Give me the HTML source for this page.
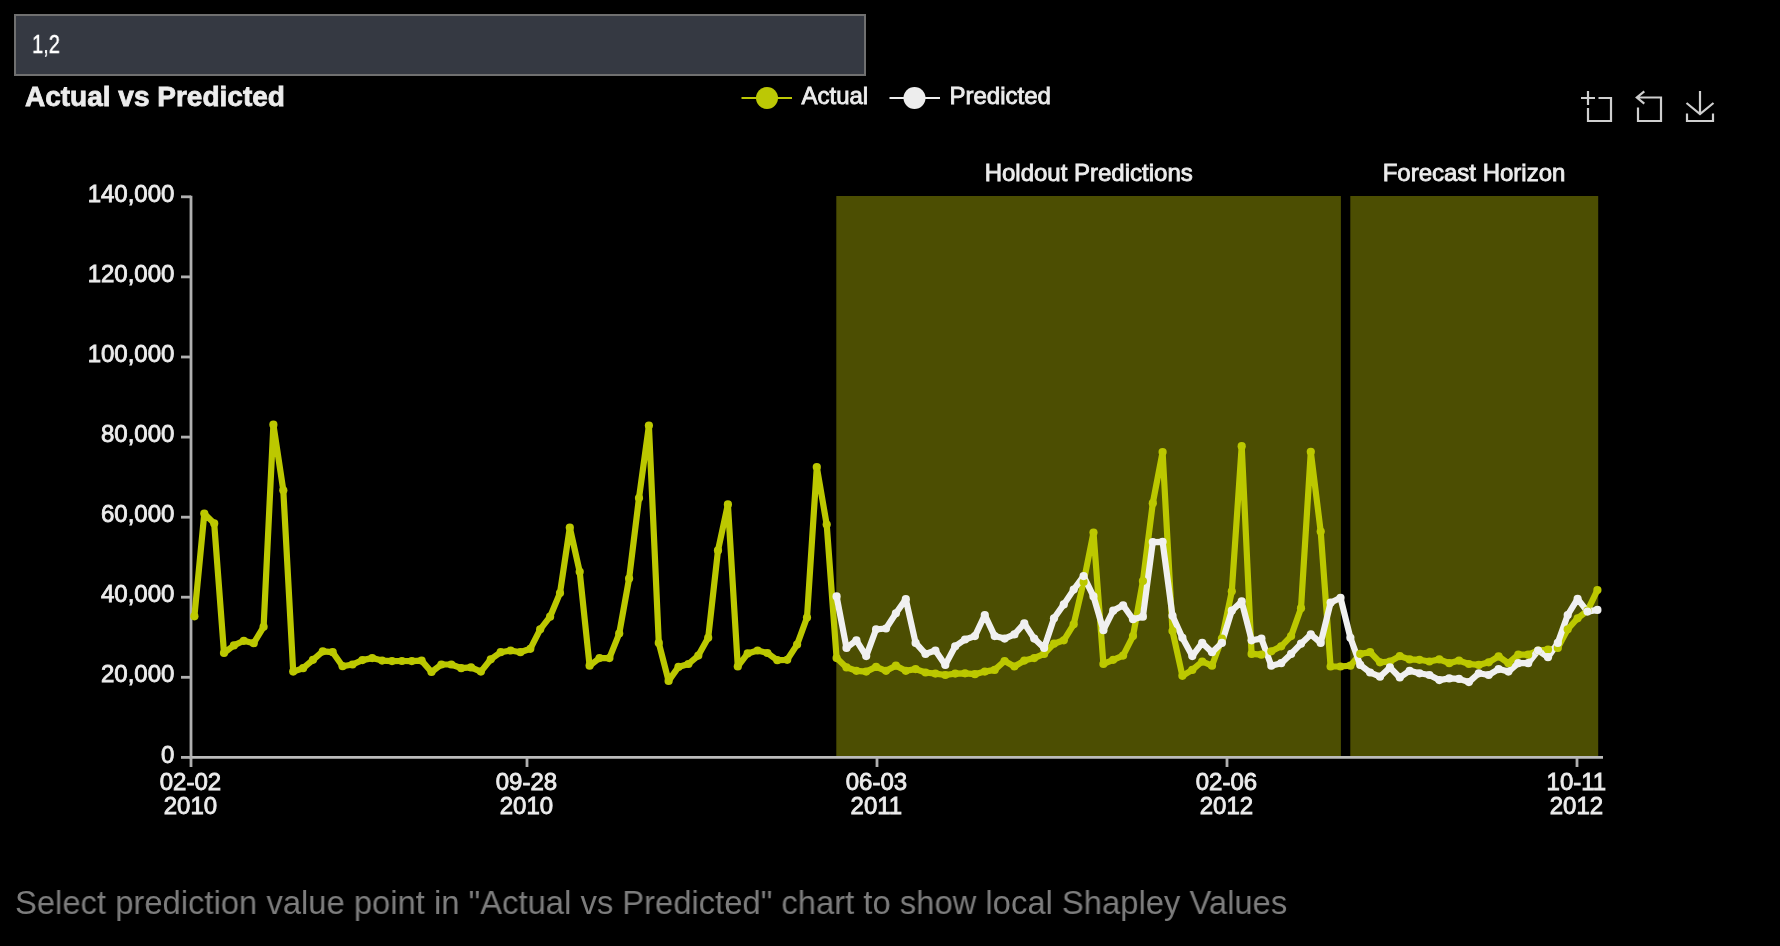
<!DOCTYPE html>
<html><head><meta charset="utf-8"><title>Actual vs Predicted</title>
<style>
html,body{margin:0;padding:0;background:#000;}
body{width:1780px;height:946px;position:relative;overflow:hidden;font-family:"Liberation Sans",sans-serif;}
#inp{position:absolute;left:14px;top:14px;width:848px;height:58px;border:2px solid #707070;background:#353942;}
#inp span{position:absolute;left:16px;top:13px;font-size:26.5px;line-height:30px;color:#fff;-webkit-text-stroke:0.4px #fff;transform-origin:0 50%;transform:scaleX(0.76);letter-spacing:0px;white-space:nowrap;}
#msg,#inp span{will-change:transform;}
#msg{position:absolute;left:15px;top:883px;font-size:33px;line-height:40px;color:#7d7d7d;white-space:nowrap;transform-origin:0 50%;transform:scaleX(0.993);}
svg{position:absolute;left:0;top:0;will-change:transform;}
svg text{font-family:"Liberation Sans",sans-serif;font-size:24px;fill:#ececec;stroke:#ececec;stroke-width:0.85px;}
</style></head><body>
<div id="inp"><span>1,2</span></div>
<svg width="1780" height="946" viewBox="0 0 1780 946">
<rect x="836.3" y="196" width="504.6" height="561" fill="#4c4e02"/>
<rect x="1350.3" y="196" width="247.9" height="561" fill="#4c4e02"/>
<g stroke="#b0b0b0" stroke-width="2.8" fill="none">
<line x1="191" y1="195.7" x2="191" y2="758.5"/>
<line x1="189.6" y1="757.4" x2="1603" y2="757.4" stroke="#bcbcbc" stroke-width="2.6"/>
<line x1="181" y1="757.4" x2="191" y2="757.4"/><line x1="181" y1="677.3" x2="191" y2="677.3"/><line x1="181" y1="597.2" x2="191" y2="597.2"/><line x1="181" y1="517.2" x2="191" y2="517.2"/><line x1="181" y1="437.1" x2="191" y2="437.1"/><line x1="181" y1="357.0" x2="191" y2="357.0"/><line x1="181" y1="276.9" x2="191" y2="276.9"/><line x1="181" y1="196.8" x2="191" y2="196.8"/><line x1="191" y1="757.4" x2="191" y2="767"/><line x1="527" y1="757.4" x2="527" y2="767"/><line x1="877" y1="757.4" x2="877" y2="767"/><line x1="1227" y1="757.4" x2="1227" y2="767"/><line x1="1577" y1="757.4" x2="1577" y2="767"/>
</g>
<g><text x="174.4" y="762.5" text-anchor="end">0</text><text x="174.4" y="682.4" text-anchor="end">20,000</text><text x="174.4" y="602.3" text-anchor="end">40,000</text><text x="174.4" y="522.3" text-anchor="end">60,000</text><text x="174.4" y="442.2" text-anchor="end">80,000</text><text x="174.4" y="362.1" text-anchor="end">100,000</text><text x="174.4" y="282.0" text-anchor="end">120,000</text><text x="174.4" y="201.9" text-anchor="end">140,000</text><text x="190.4" y="790.1" text-anchor="middle">02-02</text><text x="190.4" y="814.1" text-anchor="middle">2010</text><text x="526.4" y="790.1" text-anchor="middle">09-28</text><text x="526.4" y="814.1" text-anchor="middle">2010</text><text x="876.4" y="790.1" text-anchor="middle">06-03</text><text x="876.4" y="814.1" text-anchor="middle">2011</text><text x="1226.4" y="790.1" text-anchor="middle">02-06</text><text x="1226.4" y="814.1" text-anchor="middle">2012</text><text x="1576.4" y="790.1" text-anchor="middle">10-11</text><text x="1576.4" y="814.1" text-anchor="middle">2012</text></g>
<text x="1088.7" y="181" text-anchor="middle">Holdout Predictions</text>
<text x="1474" y="181" text-anchor="middle">Forecast Horizon</text>
<text x="25" y="105.5" style="font-weight:bold;font-size:28px;stroke-width:0.8px">Actual vs Predicted</text>
<g>
<line x1="741.5" y1="98" x2="792" y2="98" stroke="#bcc805" stroke-width="2.1"/>
<circle cx="767" cy="98" r="11" fill="#bcc805"/>
<text x="801.5" y="104">Actual</text>
<line x1="889.5" y1="98" x2="940" y2="98" stroke="#ededed" stroke-width="2.1"/>
<circle cx="914.5" cy="98" r="11" fill="#ededed"/>
<text x="949.5" y="104">Predicted</text>
</g>
<g fill="none" stroke="#cfcfcf" stroke-width="2.2" stroke-linecap="butt" stroke-linejoin="miter">
<path d="M1581 98H1595M1588 91V105M1598.5 98H1611V121H1588V108"/>
<path d="M1637 97.5H1661V121H1638V107.5M1644.3 91.3L1636.8 97.5L1644.3 103.7"/>
<path d="M1700 91V114M1686.5 103L1700 114L1713.5 103M1687 113.5V121H1713V113.5"/>
</g>
<polyline points="194.4,616.3 204.3,513.6 214.2,523.4 224.0,653.0 233.9,645.4 243.8,640.8 253.7,643.2 263.6,626.8 273.4,424.7 283.3,490.3 293.2,671.6 303.1,668.2 313.0,659.8 322.8,651.3 332.7,652.2 342.6,666.2 352.5,664.5 362.4,660.1 372.2,658.1 382.1,660.6 392.0,661.1 401.9,661.0 411.8,661.1 421.6,660.6 431.5,672.0 441.4,664.5 451.3,664.5 461.2,668.2 471.0,667.4 480.9,671.6 490.8,659.3 500.7,652.2 510.6,650.5 520.4,652.2 530.3,648.8 540.2,629.3 550.1,616.7 560.0,593.0 569.8,527.5 579.7,571.8 589.6,665.7 599.5,658.1 609.4,658.1 619.2,633.6 629.1,578.6 639.0,498.0 648.9,425.6 658.8,642.9 668.6,680.9 678.5,666.9 688.4,664.0 698.3,655.6 708.2,637.8 718.0,550.4 727.9,504.4 737.8,666.5 747.7,653.4 757.6,650.5 767.4,653.0 777.3,660.2 787.2,659.8 797.1,644.6 807.0,617.5 816.8,467.1 826.7,524.6 836.6,658.1 846.5,667.4 856.4,670.8 866.2,671.6 876.1,666.9 886.0,670.8 895.9,665.7 905.8,670.8 915.6,669.1 925.5,672.5 935.4,673.6 945.3,675.0 955.2,673.6 965.0,673.3 974.9,674.2 984.8,671.6 994.7,669.9 1004.6,661.0 1014.4,666.5 1024.3,660.6 1034.2,658.1 1044.1,653.9 1054.0,643.7 1063.8,640.3 1073.7,624.3 1083.6,582.0 1093.5,532.5 1103.4,664.0 1113.2,659.8 1123.1,655.6 1133.0,636.1 1142.9,581.1 1152.8,503.2 1162.6,452.1 1172.5,631.0 1182.4,675.8 1192.3,669.9 1202.2,661.5 1212.0,665.7 1221.9,638.6 1231.8,591.3 1241.7,446.2 1251.6,653.9 1261.4,654.7 1271.3,651.3 1281.2,646.3 1291.1,636.1 1301.0,608.2 1310.8,451.8 1320.7,531.6 1330.6,666.5 1340.5,666.5 1350.4,665.7 1360.2,653.9 1370.1,652.2 1380.0,662.3 1389.9,661.5 1399.8,656.1 1409.6,659.4 1419.5,659.8 1429.4,661.5 1439.3,659.4 1449.2,663.2 1459.0,660.6 1468.9,664.0 1478.8,664.9 1488.7,662.3 1498.6,656.4 1508.4,663.2 1518.3,654.7 1528.2,654.7 1538.1,650.5 1548.0,649.6 1557.8,647.9 1567.7,629.3 1577.6,618.3 1587.5,610.7 1597.4,590.1" fill="none" stroke="#bcc800" stroke-width="6.2" stroke-linejoin="round" stroke-linecap="round"/>
<polyline points="836.6,596.4 846.5,647.9 856.4,640.3 866.2,656.1 876.1,629.3 886.0,628.5 895.9,613.3 905.8,599.2 915.6,642.9 925.5,653.9 935.4,650.5 945.3,664.9 955.2,646.3 965.0,639.5 974.9,636.1 984.8,615.0 994.7,636.1 1004.6,638.6 1014.4,634.4 1024.3,623.4 1034.2,638.6 1044.1,647.9 1054.0,618.3 1063.8,604.4 1073.7,589.6 1083.6,576.1 1093.5,596.4 1103.4,630.2 1113.2,610.7 1123.1,605.3 1133.0,619.2 1142.9,616.7 1152.8,542.1 1162.6,541.8 1172.5,615.8 1182.4,637.8 1192.3,656.1 1202.2,642.9 1212.0,652.2 1221.9,642.9 1231.8,610.7 1241.7,601.4 1251.6,640.3 1261.4,638.6 1271.3,665.7 1281.2,663.2 1291.1,653.9 1301.0,643.7 1310.8,634.4 1320.7,642.9 1330.6,602.7 1340.5,597.8 1350.4,637.8 1360.2,664.9 1370.1,672.5 1380.0,676.7 1389.9,667.4 1399.8,677.5 1409.6,670.8 1419.5,673.3 1429.4,675.0 1439.3,680.1 1449.2,678.4 1459.0,678.9 1468.9,682.1 1478.8,673.3 1488.7,675.0 1498.6,669.1 1508.4,671.6 1518.3,663.2 1528.2,663.2 1538.1,650.5 1548.0,657.2 1557.8,642.9 1567.7,615.0 1577.6,598.9 1587.5,611.6 1597.4,609.9" fill="none" stroke="#f0f0f0" stroke-width="6.2" stroke-linejoin="round" stroke-linecap="round"/>
<g fill="#bcc800"><circle cx="194.4" cy="616.3" r="4.1"/><circle cx="204.3" cy="513.6" r="4.1"/><circle cx="214.2" cy="523.4" r="4.1"/><circle cx="224.0" cy="653.0" r="4.1"/><circle cx="233.9" cy="645.4" r="4.1"/><circle cx="243.8" cy="640.8" r="4.1"/><circle cx="253.7" cy="643.2" r="4.1"/><circle cx="263.6" cy="626.8" r="4.1"/><circle cx="273.4" cy="424.7" r="4.1"/><circle cx="283.3" cy="490.3" r="4.1"/><circle cx="293.2" cy="671.6" r="4.1"/><circle cx="303.1" cy="668.2" r="4.1"/><circle cx="313.0" cy="659.8" r="4.1"/><circle cx="322.8" cy="651.3" r="4.1"/><circle cx="332.7" cy="652.2" r="4.1"/><circle cx="342.6" cy="666.2" r="4.1"/><circle cx="352.5" cy="664.5" r="4.1"/><circle cx="362.4" cy="660.1" r="4.1"/><circle cx="372.2" cy="658.1" r="4.1"/><circle cx="382.1" cy="660.6" r="4.1"/><circle cx="392.0" cy="661.1" r="4.1"/><circle cx="401.9" cy="661.0" r="4.1"/><circle cx="411.8" cy="661.1" r="4.1"/><circle cx="421.6" cy="660.6" r="4.1"/><circle cx="431.5" cy="672.0" r="4.1"/><circle cx="441.4" cy="664.5" r="4.1"/><circle cx="451.3" cy="664.5" r="4.1"/><circle cx="461.2" cy="668.2" r="4.1"/><circle cx="471.0" cy="667.4" r="4.1"/><circle cx="480.9" cy="671.6" r="4.1"/><circle cx="490.8" cy="659.3" r="4.1"/><circle cx="500.7" cy="652.2" r="4.1"/><circle cx="510.6" cy="650.5" r="4.1"/><circle cx="520.4" cy="652.2" r="4.1"/><circle cx="530.3" cy="648.8" r="4.1"/><circle cx="540.2" cy="629.3" r="4.1"/><circle cx="550.1" cy="616.7" r="4.1"/><circle cx="560.0" cy="593.0" r="4.1"/><circle cx="569.8" cy="527.5" r="4.1"/><circle cx="579.7" cy="571.8" r="4.1"/><circle cx="589.6" cy="665.7" r="4.1"/><circle cx="599.5" cy="658.1" r="4.1"/><circle cx="609.4" cy="658.1" r="4.1"/><circle cx="619.2" cy="633.6" r="4.1"/><circle cx="629.1" cy="578.6" r="4.1"/><circle cx="639.0" cy="498.0" r="4.1"/><circle cx="648.9" cy="425.6" r="4.1"/><circle cx="658.8" cy="642.9" r="4.1"/><circle cx="668.6" cy="680.9" r="4.1"/><circle cx="678.5" cy="666.9" r="4.1"/><circle cx="688.4" cy="664.0" r="4.1"/><circle cx="698.3" cy="655.6" r="4.1"/><circle cx="708.2" cy="637.8" r="4.1"/><circle cx="718.0" cy="550.4" r="4.1"/><circle cx="727.9" cy="504.4" r="4.1"/><circle cx="737.8" cy="666.5" r="4.1"/><circle cx="747.7" cy="653.4" r="4.1"/><circle cx="757.6" cy="650.5" r="4.1"/><circle cx="767.4" cy="653.0" r="4.1"/><circle cx="777.3" cy="660.2" r="4.1"/><circle cx="787.2" cy="659.8" r="4.1"/><circle cx="797.1" cy="644.6" r="4.1"/><circle cx="807.0" cy="617.5" r="4.1"/><circle cx="816.8" cy="467.1" r="4.1"/><circle cx="826.7" cy="524.6" r="4.1"/><circle cx="836.6" cy="658.1" r="4.1"/><circle cx="846.5" cy="667.4" r="4.1"/><circle cx="856.4" cy="670.8" r="4.1"/><circle cx="866.2" cy="671.6" r="4.1"/><circle cx="876.1" cy="666.9" r="4.1"/><circle cx="886.0" cy="670.8" r="4.1"/><circle cx="895.9" cy="665.7" r="4.1"/><circle cx="905.8" cy="670.8" r="4.1"/><circle cx="915.6" cy="669.1" r="4.1"/><circle cx="925.5" cy="672.5" r="4.1"/><circle cx="935.4" cy="673.6" r="4.1"/><circle cx="945.3" cy="675.0" r="4.1"/><circle cx="955.2" cy="673.6" r="4.1"/><circle cx="965.0" cy="673.3" r="4.1"/><circle cx="974.9" cy="674.2" r="4.1"/><circle cx="984.8" cy="671.6" r="4.1"/><circle cx="994.7" cy="669.9" r="4.1"/><circle cx="1004.6" cy="661.0" r="4.1"/><circle cx="1014.4" cy="666.5" r="4.1"/><circle cx="1024.3" cy="660.6" r="4.1"/><circle cx="1034.2" cy="658.1" r="4.1"/><circle cx="1044.1" cy="653.9" r="4.1"/><circle cx="1054.0" cy="643.7" r="4.1"/><circle cx="1063.8" cy="640.3" r="4.1"/><circle cx="1073.7" cy="624.3" r="4.1"/><circle cx="1083.6" cy="582.0" r="4.1"/><circle cx="1093.5" cy="532.5" r="4.1"/><circle cx="1103.4" cy="664.0" r="4.1"/><circle cx="1113.2" cy="659.8" r="4.1"/><circle cx="1123.1" cy="655.6" r="4.1"/><circle cx="1133.0" cy="636.1" r="4.1"/><circle cx="1142.9" cy="581.1" r="4.1"/><circle cx="1152.8" cy="503.2" r="4.1"/><circle cx="1162.6" cy="452.1" r="4.1"/><circle cx="1172.5" cy="631.0" r="4.1"/><circle cx="1182.4" cy="675.8" r="4.1"/><circle cx="1192.3" cy="669.9" r="4.1"/><circle cx="1202.2" cy="661.5" r="4.1"/><circle cx="1212.0" cy="665.7" r="4.1"/><circle cx="1221.9" cy="638.6" r="4.1"/><circle cx="1231.8" cy="591.3" r="4.1"/><circle cx="1241.7" cy="446.2" r="4.1"/><circle cx="1251.6" cy="653.9" r="4.1"/><circle cx="1261.4" cy="654.7" r="4.1"/><circle cx="1271.3" cy="651.3" r="4.1"/><circle cx="1281.2" cy="646.3" r="4.1"/><circle cx="1291.1" cy="636.1" r="4.1"/><circle cx="1301.0" cy="608.2" r="4.1"/><circle cx="1310.8" cy="451.8" r="4.1"/><circle cx="1320.7" cy="531.6" r="4.1"/><circle cx="1330.6" cy="666.5" r="4.1"/><circle cx="1340.5" cy="666.5" r="4.1"/><circle cx="1350.4" cy="665.7" r="4.1"/><circle cx="1360.2" cy="653.9" r="4.1"/><circle cx="1370.1" cy="652.2" r="4.1"/><circle cx="1380.0" cy="662.3" r="4.1"/><circle cx="1389.9" cy="661.5" r="4.1"/><circle cx="1399.8" cy="656.1" r="4.1"/><circle cx="1409.6" cy="659.4" r="4.1"/><circle cx="1419.5" cy="659.8" r="4.1"/><circle cx="1429.4" cy="661.5" r="4.1"/><circle cx="1439.3" cy="659.4" r="4.1"/><circle cx="1449.2" cy="663.2" r="4.1"/><circle cx="1459.0" cy="660.6" r="4.1"/><circle cx="1468.9" cy="664.0" r="4.1"/><circle cx="1478.8" cy="664.9" r="4.1"/><circle cx="1488.7" cy="662.3" r="4.1"/><circle cx="1498.6" cy="656.4" r="4.1"/><circle cx="1508.4" cy="663.2" r="4.1"/><circle cx="1518.3" cy="654.7" r="4.1"/><circle cx="1528.2" cy="654.7" r="4.1"/><circle cx="1538.1" cy="650.5" r="4.1"/><circle cx="1548.0" cy="649.6" r="4.1"/><circle cx="1557.8" cy="647.9" r="4.1"/><circle cx="1567.7" cy="629.3" r="4.1"/><circle cx="1577.6" cy="618.3" r="4.1"/><circle cx="1587.5" cy="610.7" r="4.1"/><circle cx="1597.4" cy="590.1" r="4.1"/></g>
<g fill="#f0f0f0"><circle cx="836.6" cy="596.4" r="4.1"/><circle cx="846.5" cy="647.9" r="4.1"/><circle cx="856.4" cy="640.3" r="4.1"/><circle cx="866.2" cy="656.1" r="4.1"/><circle cx="876.1" cy="629.3" r="4.1"/><circle cx="886.0" cy="628.5" r="4.1"/><circle cx="895.9" cy="613.3" r="4.1"/><circle cx="905.8" cy="599.2" r="4.1"/><circle cx="915.6" cy="642.9" r="4.1"/><circle cx="925.5" cy="653.9" r="4.1"/><circle cx="935.4" cy="650.5" r="4.1"/><circle cx="945.3" cy="664.9" r="4.1"/><circle cx="955.2" cy="646.3" r="4.1"/><circle cx="965.0" cy="639.5" r="4.1"/><circle cx="974.9" cy="636.1" r="4.1"/><circle cx="984.8" cy="615.0" r="4.1"/><circle cx="994.7" cy="636.1" r="4.1"/><circle cx="1004.6" cy="638.6" r="4.1"/><circle cx="1014.4" cy="634.4" r="4.1"/><circle cx="1024.3" cy="623.4" r="4.1"/><circle cx="1034.2" cy="638.6" r="4.1"/><circle cx="1044.1" cy="647.9" r="4.1"/><circle cx="1054.0" cy="618.3" r="4.1"/><circle cx="1063.8" cy="604.4" r="4.1"/><circle cx="1073.7" cy="589.6" r="4.1"/><circle cx="1083.6" cy="576.1" r="4.1"/><circle cx="1093.5" cy="596.4" r="4.1"/><circle cx="1103.4" cy="630.2" r="4.1"/><circle cx="1113.2" cy="610.7" r="4.1"/><circle cx="1123.1" cy="605.3" r="4.1"/><circle cx="1133.0" cy="619.2" r="4.1"/><circle cx="1142.9" cy="616.7" r="4.1"/><circle cx="1152.8" cy="542.1" r="4.1"/><circle cx="1162.6" cy="541.8" r="4.1"/><circle cx="1172.5" cy="615.8" r="4.1"/><circle cx="1182.4" cy="637.8" r="4.1"/><circle cx="1192.3" cy="656.1" r="4.1"/><circle cx="1202.2" cy="642.9" r="4.1"/><circle cx="1212.0" cy="652.2" r="4.1"/><circle cx="1221.9" cy="642.9" r="4.1"/><circle cx="1231.8" cy="610.7" r="4.1"/><circle cx="1241.7" cy="601.4" r="4.1"/><circle cx="1251.6" cy="640.3" r="4.1"/><circle cx="1261.4" cy="638.6" r="4.1"/><circle cx="1271.3" cy="665.7" r="4.1"/><circle cx="1281.2" cy="663.2" r="4.1"/><circle cx="1291.1" cy="653.9" r="4.1"/><circle cx="1301.0" cy="643.7" r="4.1"/><circle cx="1310.8" cy="634.4" r="4.1"/><circle cx="1320.7" cy="642.9" r="4.1"/><circle cx="1330.6" cy="602.7" r="4.1"/><circle cx="1340.5" cy="597.8" r="4.1"/><circle cx="1350.4" cy="637.8" r="4.1"/><circle cx="1360.2" cy="664.9" r="4.1"/><circle cx="1370.1" cy="672.5" r="4.1"/><circle cx="1380.0" cy="676.7" r="4.1"/><circle cx="1389.9" cy="667.4" r="4.1"/><circle cx="1399.8" cy="677.5" r="4.1"/><circle cx="1409.6" cy="670.8" r="4.1"/><circle cx="1419.5" cy="673.3" r="4.1"/><circle cx="1429.4" cy="675.0" r="4.1"/><circle cx="1439.3" cy="680.1" r="4.1"/><circle cx="1449.2" cy="678.4" r="4.1"/><circle cx="1459.0" cy="678.9" r="4.1"/><circle cx="1468.9" cy="682.1" r="4.1"/><circle cx="1478.8" cy="673.3" r="4.1"/><circle cx="1488.7" cy="675.0" r="4.1"/><circle cx="1498.6" cy="669.1" r="4.1"/><circle cx="1508.4" cy="671.6" r="4.1"/><circle cx="1518.3" cy="663.2" r="4.1"/><circle cx="1528.2" cy="663.2" r="4.1"/><circle cx="1538.1" cy="650.5" r="4.1"/><circle cx="1548.0" cy="657.2" r="4.1"/><circle cx="1557.8" cy="642.9" r="4.1"/><circle cx="1567.7" cy="615.0" r="4.1"/><circle cx="1577.6" cy="598.9" r="4.1"/><circle cx="1587.5" cy="611.6" r="4.1"/><circle cx="1597.4" cy="609.9" r="4.1"/></g>
</svg>
<div id="msg">Select prediction value point in "Actual vs Predicted" chart to show local Shapley Values</div>
</body></html>
